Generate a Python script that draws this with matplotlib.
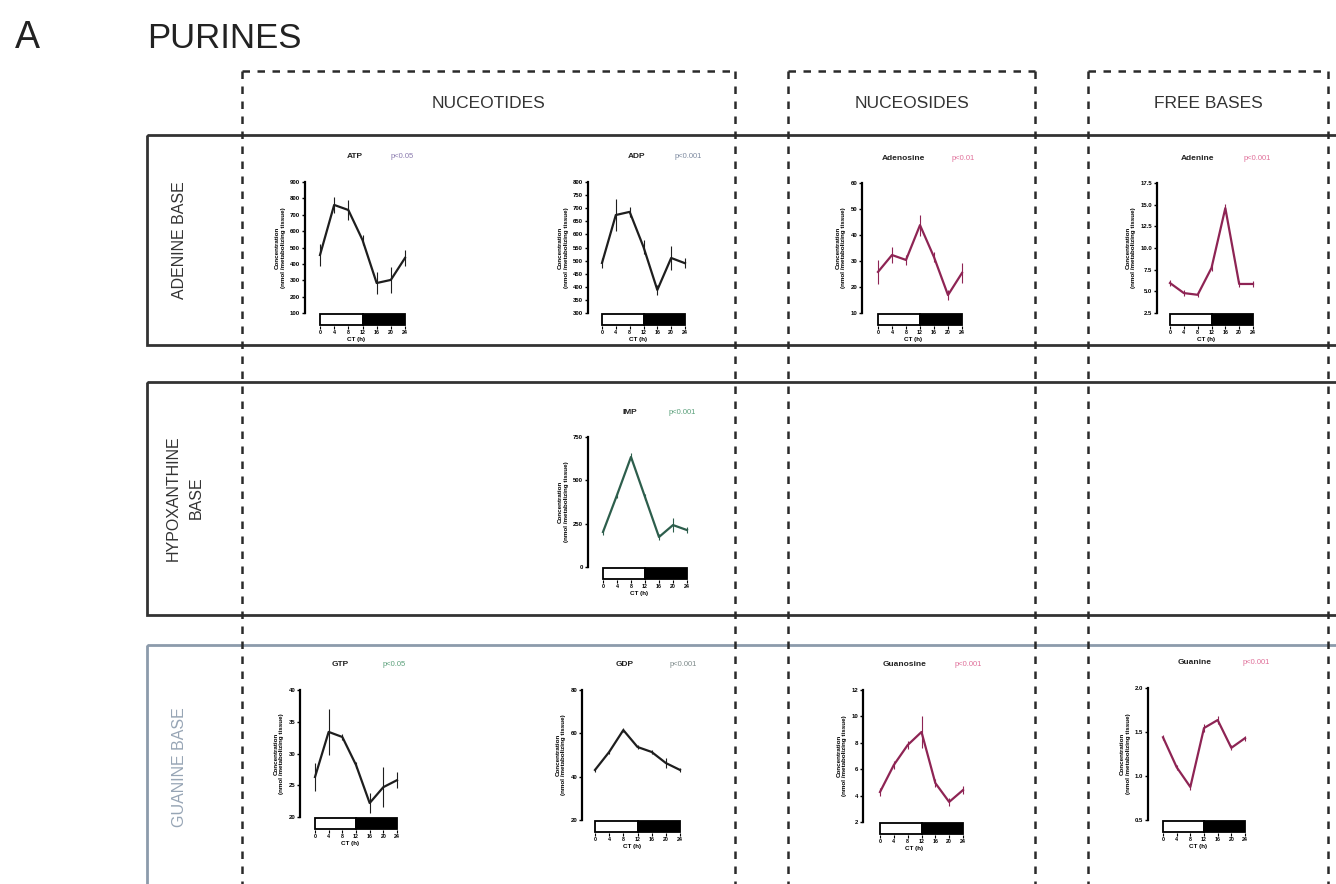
import matplotlib.pyplot as plt
from matplotlib.patches import Rectangle

plt.rcParams['font.family'] = ['Liberation Sans', 'DejaVu Sans']

W, H = 1336, 884

ct = [0, 4, 8, 12, 16, 20, 24]

atp = [454, 760, 729, 546, 283, 302, 436]
atp_err = [70, 50, 60, 30, 70, 80, 50]
adp = [491, 674, 686, 552, 388, 510, 490]
adp_err = [20, 60, 20, 25, 20, 45, 20]
adenosine = [25.8, 32.3, 30.4, 43.8, 31.5, 16.9, 25.4]
adenosine_err = [4.5, 3.0, 2.0, 4.0, 2.0, 2.0, 4.0]
adenine = [5.96, 4.8, 4.6, 7.7, 14.6, 5.85, 5.85]
adenine_err = [0.3, 0.3, 0.3, 0.3, 0.5, 0.3, 0.3]
imp = [202, 415, 635, 404, 173, 242, 213]
imp_err = [15, 15, 20, 15, 20, 40, 15]
gtp = [26.3, 33.4, 32.6, 28.2, 22.2, 24.7, 25.8]
gtp_err = [2.2, 3.6, 0.5, 0.5, 1.6, 3.1, 1.3]
gdp = [43.1, 51.4, 61.5, 53.7, 51.4, 46.3, 43.1]
gdp_err = [1.0, 1.0, 1.0, 1.0, 1.0, 2.5, 1.0]
guanosine = [4.27, 6.32, 7.83, 8.82, 4.95, 3.52, 4.42]
guanosine_err = [0.3, 0.3, 0.3, 1.2, 0.3, 0.3, 0.3]
guanine = [1.44, 1.10, 0.875, 1.545, 1.636, 1.32, 1.43]
guanine_err = [0.03, 0.03, 0.03, 0.05, 0.05, 0.03, 0.03]

atp_ticks = [100, 200, 300, 400, 500, 600, 700, 800, 900]
adp_ticks = [300, 350, 400, 450, 500, 550, 600, 650, 700, 750, 800]
adenosine_ticks = [10, 20, 30, 40, 50, 60]
adenine_ticks = [2.5, 5.0, 7.5, 10.0, 12.5, 15.0, 17.5]
imp_ticks = [0, 250, 500, 750]
gtp_ticks = [20, 25, 30, 35, 40]
gdp_ticks = [20, 40, 60, 80]
guanosine_ticks = [2, 4, 6, 8, 10, 12]
guanine_ticks = [0.5, 1.0, 1.5, 2.0]

ct_ticks = [0, 4, 8, 12, 16, 20, 24]

BLACK = '#1e1e1e'
MAGENTA = '#8e2454'
GREEN = '#2d5e4c'

fig = plt.figure(figsize=(W / 100, H / 100), dpi=100)
fig.patch.set_facecolor('white')

# pixel-space overlay for frames and labels
ov = fig.add_axes([0, 0, 1, 1], zorder=0)
ov.set_xlim(0, W)
ov.set_ylim(H, 0)
ov.axis('off')


def px_axes(left, top, right, bottom):
    return fig.add_axes([left / W, 1 - bottom / H, (right - left) / W, (bottom - top) / H], zorder=2)


ov.text(15, 38, 'A', fontsize=27, va='center', ha='left', color='#222')
ov.text(147, 38, 'PURINES', fontsize=25, va='center', ha='left', color='#222')

# dashed column frames
for (l, r, name) in [(242, 735, 'NUCEOTIDES'), (788, 1035, 'NUCEOSIDES'), (1088, 1328, 'FREE BASES')]:
    ov.plot([l, r], [71, 71], color='#2a2a2a', lw=1.8, ls=(0, (3, 3)))
    ov.plot([l, l], [71, 890], color='#2a2a2a', lw=1.8, ls=(0, (3, 3)))
    ov.plot([r, r], [71, 890], color='#2a2a2a', lw=1.8, ls=(0, (3, 3)))
    ov.text((l + r) / 2, 103, name, fontsize=12.5, ha='center', va='center', color='#333')

# solid row frames
ov.add_patch(Rectangle((147, 135), 1200, 210, fill=False, ec='#333', lw=2))
ov.add_patch(Rectangle((147, 382), 1200, 233, fill=False, ec='#333', lw=2))
ov.add_patch(Rectangle((147, 645), 1200, 250, fill=False, ec='#8c9bab', lw=2))
ov.text(180, 240, 'ADENINE BASE', rotation=90, fontsize=11.5, ha='center', va='center', color='#333')
ov.text(185, 498, 'HYPOXANTHINE\nBASE', rotation=90, fontsize=11.5, ha='center', va='center',
        color='#333', linespacing=1.7, multialignment='center')
ov.text(180, 767, 'GUANINE BASE', rotation=90, fontsize=11.5, ha='center', va='center', color='#97a5b5')

panels = [
    # name, p-text, p colour, values, errors, ticks, line colour, spine x, x0, x1, top, bottom, title x, p x
    ('ATP', 'p<0.05', '#8a7aae', atp, atp_err, atp_ticks, BLACK, 305, 320, 405, 182, 313, 355, 402),
    ('ADP', 'p<0.001', '#7d8aa0', adp, adp_err, adp_ticks, BLACK, 588, 602, 685, 182, 313, 637, 688),
    ('Adenosine', 'p<0.01', '#e0709a', adenosine, adenosine_err, adenosine_ticks, MAGENTA, 862, 878, 962, 183, 313, 903, 963),
    ('Adenine', 'p<0.001', '#e0709a', adenine, adenine_err, adenine_ticks, MAGENTA, 1157, 1170, 1253, 183, 313, 1198, 1257),
    ('IMP', 'p<0.001', '#5aa07a', imp, imp_err, imp_ticks, GREEN, 588, 603, 687, 437, 567, 630, 682),
    ('GTP', 'p<0.05', '#5aa07a', gtp, gtp_err, gtp_ticks, BLACK, 300, 315, 397, 690, 817, 340, 394),
    ('GDP', 'p<0.001', '#7d8a8a', gdp, gdp_err, gdp_ticks, BLACK, 582, 595, 680, 690, 820, 625, 683),
    ('Guanosine', 'p<0.001', '#e0709a', guanosine, guanosine_err, guanosine_ticks, MAGENTA, 863, 880, 963, 690, 822, 905, 968),
    ('Guanine', 'p<0.001', '#e0709a', guanine, guanine_err, guanine_ticks, MAGENTA, 1148, 1163, 1245, 688, 820, 1195, 1256),
]

for (name, ptxt, pcol, vals, errs, ticks, lcol, sx, x0, x1, top, bot, tx, pxx) in panels:
    scale = 24 / (x1 - x0)
    xlim = (-(x0 - sx) * scale, 24 + 3 * scale)

    ax = px_axes(sx, top, x1 + 3, bot)
    ax.patch.set_alpha(0)
    ax.errorbar(ct, vals, yerr=errs, color=lcol, lw=1.6, elinewidth=0.8, capsize=0)
    ax.set_xlim(*xlim)
    ax.set_ylim(ticks[0], ticks[-1])
    ax.set_yticks(ticks)
    ax.set_yticklabels([f'{t:g}' if not isinstance(t, float) else f'{t:.1f}' for t in ticks],
                       fontsize=4.3, fontweight='bold')
    ax.set_xticks([])
    for s in ['top', 'right', 'bottom']:
        ax.spines[s].set_visible(False)
    ax.spines['left'].set_linewidth(1.6)
    ax.tick_params(axis='y', length=2.5, width=1, pad=1)
    ax.set_ylabel('Concentration\n(nmol /metabolizing tissue)', fontsize=4.5, fontweight='bold', labelpad=3)

    # light/dark bar
    bar = px_axes(sx, bot, x1 + 3, bot + 13)
    bar.patch.set_alpha(0)
    bar.set_xlim(*xlim)
    bar.set_ylim(0, 1)
    bar.add_patch(Rectangle((0, 0.08), 12, 0.84, fc='white', ec='black', lw=1.3))
    bar.add_patch(Rectangle((12, 0.08), 12, 0.84, fc='black', ec='black', lw=1.3))
    for s in ['top', 'right', 'left', 'bottom']:
        bar.spines[s].set_visible(False)
    bar.set_yticks([])
    bar.set_xticks(ct_ticks)
    bar.set_xticklabels([str(t) for t in ct_ticks], fontsize=3.8, fontweight='bold')
    bar.tick_params(axis='x', length=2, width=0.8, pad=1)
    bar.set_xlabel('CT (h)', fontsize=4.5, fontweight='bold', labelpad=1.5)

    ov.text(tx, top - 25, name, fontsize=6, fontweight='bold', ha='center', va='center', color='#222')
    ov.text(pxx, top - 25, ptxt, fontsize=5.5, ha='center', va='center', color=pcol)

fig.savefig('out.png', dpi=100, facecolor='white')
